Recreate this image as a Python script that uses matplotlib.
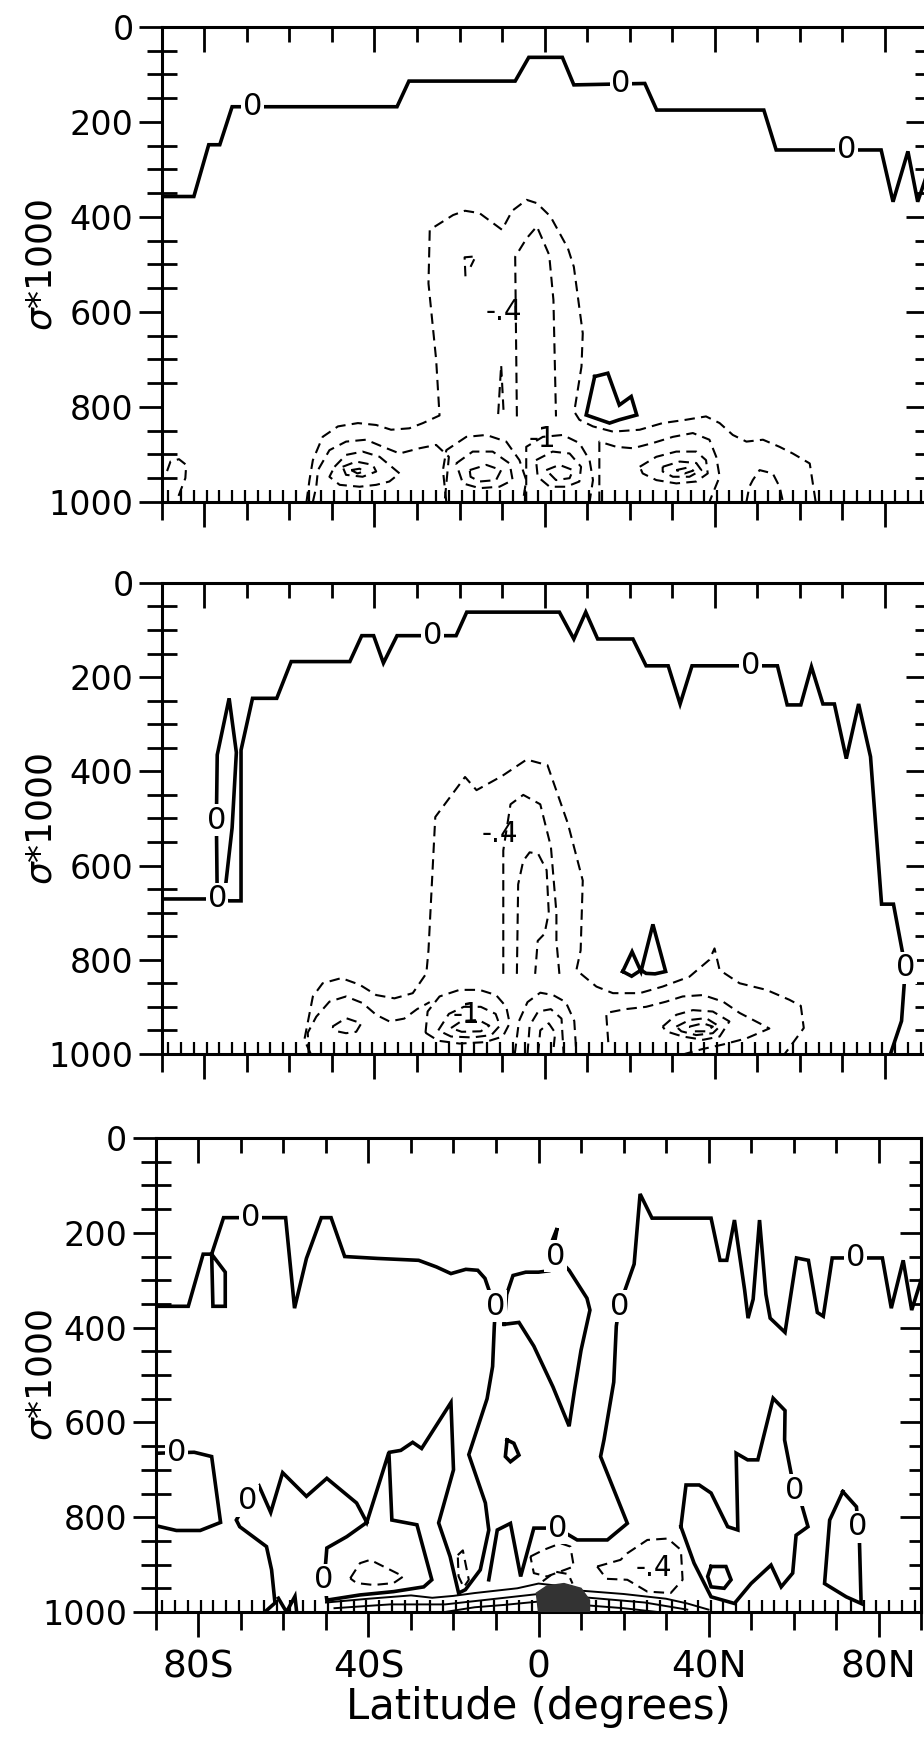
import numpy as np
import matplotlib
matplotlib.use("Agg")
import matplotlib.pyplot as plt
from matplotlib.ticker import FixedLocator, MultipleLocator, NullFormatter

plt.rcParams["font.family"] = ["DejaVu Sans"]
plt.rcParams["mathtext.fontset"] = "dejavusans"

# ---------------- data: contour lines as (latitude, sigma*1000) ----------------

# panel 1
p1_zero = [(-90, 357), (-82.5, 357), (-79, 248), (-76.4, 248), (-73.5, 168), (-34.7, 168), (-31.9, 114),
           (-6.9, 114), (-3.7, 64), (4.2, 64), (6.9, 122), (23.6, 119), (26.4, 175), (51.6, 175),
           (54.5, 259), (79.2, 259), (82, 368), (85.5, 262), (87.8, 368), (90, 310)]
p1_pos = [(11.8, 736), (14.9, 729), (17.6, 796), (20.4, 778), (21.7, 817), (17.6, 827), (15.3, 834),
          (9.8, 817), (11.8, 736)]
p1_outer = [(-56, 1000), (-55.3, 954), (-54.5, 912), (-52.2, 863), (-48.6, 841), (-43.9, 834), (-39.6, 838),
            (-36.1, 848), (-31.8, 845), (-28.6, 834), (-24.7, 818), (-25.5, 700), (-27.3, 540), (-27, 427),
            (-21.5, 396), (-18.7, 387), (-15.3, 392), (-10, 427), (-7.6, 387), (-4.2, 364), (-1.8, 371),
            (1.4, 399), (5.5, 466), (6.9, 505), (9, 645), (8.7, 715), (7, 810), (8.2, 827), (11.4, 841),
            (16.1, 852), (22.4, 848), (27.8, 834), (33.3, 827), (38, 820), (41.2, 834), (44.3, 859),
            (47.5, 873), (51.4, 869), (55.3, 884), (58.4, 898), (62.4, 919), (63.8, 1000)]
p1_inner = [(-6.5, 820), (-6.9, 484), (-4.2, 445), (-1.8, 420), (1.1, 480), (2.1, 575), (2.7, 820)]
p1_spike = [(-10.9, 815), (-10.2, 712), (-9.6, 815)]
p1_hook = [(-18.6, 525), (-18.8, 485), (-16.2, 483), (-17.4, 505)]
p1_left2 = [(-54.5, 1000), (-53.7, 968), (-53.3, 933), (-50.6, 891), (-46.7, 873), (-42, 869), (-38, 884),
            (-34.1, 898), (-29.4, 887), (-25.5, 880), (-22.5, 905), (-23.5, 1000)]
p1_left3 = [(-49.4, 926), (-46.7, 901), (-42.8, 894), (-38.8, 905), (-36.5, 922), (-34.1, 940), (-36.5, 957),
            (-39.6, 964), (-43.5, 968), (-48.2, 964), (-50.6, 947), (-49.4, 926)]
p1_left4 = [(-47.5, 926), (-44.3, 915), (-40.4, 922), (-39.6, 936), (-42.8, 947), (-46.7, 943), (-47.5, 926)]
p1_left5 = [(-45.5, 933), (-43.5, 930), (-42.5, 936), (-44, 940), (-45.5, 933)]
p1_c1 = [(-23.1, 1000), (-23.9, 933), (-23.1, 891), (-18.4, 863), (-13.7, 859), (-9, 873), (-5.9, 912),
         (-4.3, 954), (-5.1, 1000)]
p1_c2 = [(-20.8, 919), (-16.9, 894), (-12.2, 894), (-8.2, 919), (-7.5, 954), (-10.6, 968), (-15.3, 971),
         (-19.2, 961), (-20.8, 919)]
p1_c3 = [(-17.6, 933), (-13.7, 922), (-10.2, 933), (-11.4, 954), (-15.3, 957), (-17.4, 947), (-17.6, 933)]
p1_d1 = [(-4.3, 1000), (-4.3, 884), (-0.4, 863), (4.3, 859), (8.2, 876), (10.6, 912), (11.4, 954), (10.6, 1000)]
p1_d2 = [(-2, 912), (1.9, 894), (5.9, 898), (8.6, 926), (8.2, 957), (5.1, 968), (1.2, 968), (-1.6, 947), (-2, 912)]
p1_d3 = [(0.4, 933), (3.5, 922), (6.7, 933), (5.9, 950), (2.7, 954), (0.4, 933)]
p1_right2 = [(12.9, 1000), (12.9, 873), (16.9, 884), (20.8, 887), (25.5, 876), (30.2, 863), (34.9, 855),
             (38.8, 869), (40.4, 905), (41.2, 947), (39.6, 982), (38.8, 1000)]
p1_right3 = [(22.4, 926), (26.3, 905), (31, 894), (35.7, 894), (38, 912), (38.4, 940), (35.7, 957), (31, 961),
             (26.3, 954), (23.1, 940), (22.4, 926)]
p1_right4 = [(27.8, 926), (31.8, 915), (35.7, 918), (36.9, 933), (34.1, 947), (30.2, 947), (27.8, 936), (27.8, 926)]
p1_right5 = [(31, 933), (33.5, 928), (35, 934), (33, 940), (31, 933)]
p1_arch = [(47.5, 1000), (48.2, 968), (49, 954), (50.6, 933), (53.7, 940), (55.3, 968), (56.1, 1000)]
p1_pole = [(-88.8, 935), (-88, 915), (-86, 910), (-84.3, 922), (-84.5, 950), (-86, 985), (-86.6, 1000)]
p1_zero_lbl = [(-68.7, 168), (18, 119), (71, 259)]
p1_neg_lbl = [(-9.5, 600, "-.4"), (-0.5, 868, "-1")]

# panel 2
p2_zero = [(-90, 671), (-77, 671), (-74.2, 675), (-71.4, 675), (-71.4, 355), (-68.7, 245), (-63, 245),
           (-59.6, 167), (-45.8, 167), (-43, 112), (-40.2, 112), (-37.9, 170), (-34.7, 112), (-20.8, 112),
           (-18.3, 62), (3.5, 62), (6.9, 119), (9.7, 62), (12.5, 119), (20.8, 119), (23.9, 176), (29.1, 176),
           (31.9, 257), (34.7, 176), (54.8, 176), (57.1, 259), (60.3, 259), (62.8, 178), (65.5, 257),
           (68.2, 257), (71, 373), (73.9, 257), (76.7, 369), (79.3, 682), (82.1, 682), (84.9, 817),
           (84, 930), (81.4, 1000)]
p2_loop = [(-77, 671), (-77.2, 504), (-77, 365), (-74.2, 245), (-72.5, 360), (-73.5, 520), (-75, 640), (-77, 671)]
p2_pos = [(18.4, 825), (20.6, 783), (22.7, 825), (25.5, 725), (28.5, 825), (26, 830), (23.9, 829), (22.7, 822),
          (20.5, 835), (18.4, 825)]
p2_outer = [(-55, 1000), (-56.5, 970), (-54.5, 878), (-52.2, 850), (-47.8, 839), (-43.5, 853), (-39.6, 875),
            (-35.3, 882), (-31, 871), (-27.8, 829), (-27.3, 780), (-25.7, 497), (-18.7, 412), (-16, 440),
            (-10, 410), (-4.2, 375), (0.7, 387), (5.5, 511), (9, 632), (8.5, 780), (7.5, 822), (12.2, 857),
            (16.1, 871), (22.4, 871), (27.8, 857), (34.1, 836), (38.8, 800), (40, 776), (41.2, 822),
            (45.9, 850), (52.2, 864), (57.6, 885), (60.3, 898), (61, 945), (57.6, 987), (56.5, 1000)]
p2_inner = [(-9.7, 830), (-9.7, 568), (-8, 470), (-5, 450), (-1, 470), (1.5, 560), (2.8, 700), (2.8, 760), (3.5, 830)]
p2_inner2 = [(-6.5, 830), (-6.2, 640), (-5, 590), (-3.5, 572), (-1.5, 575), (0.5, 610), (1, 700), (0, 745),
             (-1.6, 760), (-2.2, 830)]
p2_left2 = [(-55.5, 1000), (-55.7, 955), (-53.7, 921), (-50.6, 889), (-46.7, 878), (-42.8, 892), (-39.6, 917),
            (-36.5, 931), (-33, 925), (-30, 905), (-27, 890)]
p2_left3 = [(-49.9, 942), (-46.7, 924), (-43.1, 935), (-44.3, 953), (-46.7, 956), (-48.8, 952), (-49.9, 942)]
p2_m1 = [(-28, 955), (-27.5, 910), (-24.7, 878), (-20, 864), (-15.3, 864), (-11.4, 875), (-9, 900), (-8.2, 935),
         (-9.8, 963), (-14, 975), (-20, 978), (-25, 972), (-28, 955)]
p2_m2 = [(-25, 950), (-22.5, 915), (-19, 900), (-15, 900), (-11.5, 915), (-10.5, 940), (-12.5, 960), (-17, 965),
         (-22, 963), (-25, 950)]
p2_m3 = [(-22, 945), (-19.5, 930), (-15.5, 928), (-13, 940), (-15, 952), (-19.5, 953), (-22, 945)]
p2_n1 = [(-7, 1000), (-6, 930), (-4, 890), (-1, 870), (2, 875), (5, 890), (7, 930), (7.5, 1000)]
p2_n2 = [(-4, 1000), (-3.5, 940), (-1.5, 910), (1.5, 905), (4, 925), (4.5, 1000)]
p2_n3 = [(-1.5, 1000), (-1, 950), (1, 935), (2.5, 955), (2, 1000)]
p2_r1 = [(15, 975), (14.5, 913), (19, 905), (23.9, 900), (28.6, 889), (32.5, 878), (37.3, 875), (42, 889),
         (45.9, 913), (50.6, 935), (52.9, 946), (47.5, 967), (42, 980), (37, 990), (33, 1000)]
p2_r2 = [(27.8, 942), (31, 917), (34.9, 907), (39.6, 910), (43.5, 931), (41.2, 963), (37.3, 970), (32.5, 963),
         (28.6, 952), (27.8, 942)]
p2_r3 = [(31, 942), (34.1, 928), (38, 924), (41.2, 942), (39.6, 956), (35.7, 960), (32.2, 952), (31, 942)]
p2_r4 = [(34.1, 942), (37.3, 935), (39.6, 942), (38, 952), (35.3, 952), (34.1, 942)]
p2_zero_lbl = [(-77, 671), (-77.2, 504), (-26.4, 112), (48.5, 176), (84.9, 817)]
p2_neg_lbl = [(-10.4, 533, "-.4"), (-18.4, 917, "-1")]

# panel 3
p3_top = [(-90, 355), (-82.4, 355), (-78.9, 245), (-76.9, 245), (-74.1, 168), (-59.5, 168), (-57.4, 359),
          (-54.6, 254), (-51.1, 168), (-48.8, 168), (-45.6, 250), (-37.9, 254), (-28.2, 258), (-24, 272),
          (-20.6, 286), (-17.1, 277), (-14.3, 279), (-12.6, 296), (-11.3, 330), (-10.1, 355), (-10.4, 397),
          (-10.8, 482), (-12.1, 550), (-16.4, 668), (-12.5, 770), (-11.7, 827), (-13.7, 911), (-17.2, 953),
          (-18.8, 960), (-20.8, 883), (-23.5, 812), (-20, 700), (-20.6, 558), (-27.5, 655), (-29.6, 642),
          (-32.4, 659), (-35, 663)]
p3_box = [(-76.9, 245), (-76.6, 355), (-73.7, 355), (-73.7, 283), (-76.9, 245)]
p3_u = [(-90, 665), (-81, 663), (-76.9, 672), (-74.8, 811), (-79.6, 828), (-85.2, 828), (-90, 818)]
p3_low = [(-64.4, 1000), (-62, 981), (-62.8, 911), (-64, 862), (-70.3, 820), (-71.1, 806), (-68.5, 765),
          (-65.7, 735), (-63, 790), (-60.2, 706), (-54.6, 756), (-49.8, 718), (-42.8, 770), (-40.4, 811),
          (-35.2, 663), (-34.5, 806), (-28.6, 816), (-25.1, 932), (-27, 947), (-34.1, 957), (-42, 964),
          (-49.8, 975), (-50.4, 932), (-49.8, 865), (-45.1, 841), (-40.4, 811)]
p3_notch = [(-8.1, 393), (-4.6, 389), (-1.1, 439), (3.4, 525), (7.2, 608), (8.5, 530), (10, 448), (12.1, 363),
            (11.4, 338), (7.2, 279), (4, 249), (3.3, 215), (4.4, 190), (2.5, 280), (0, 283), (-3, 283),
            (-6, 290), (-7.5, 330), (-8.1, 393)]
p3_north = [(19, 355), (22.5, 266), (23.9, 118), (26.7, 169), (40.6, 169), (42.7, 258), (44.3, 258), (46.1, 173),
            (48.5, 321), (49.3, 380), (50.5, 340), (52, 173), (53.5, 330), (54.5, 380), (58, 410), (60.7, 253),
            (63.5, 258), (65.6, 368), (67, 376), (69.1, 253), (80.9, 253), (83, 359), (85.8, 258), (87.8, 363),
            (90, 300)]
p3_mid = [(19, 355), (18.3, 397), (17.7, 515), (15.4, 637), (14.6, 672), (20.9, 813), (16.2, 848), (9.1, 848),
          (4.4, 823), (-1.1, 823), (-4.2, 925), (-6.6, 813), (-9.7, 827), (-11.7, 932)]
p3_east = [(33.5, 820), (34.7, 732), (37.8, 732), (40.6, 749), (44.5, 820), (46.9, 827), (46.5, 665), (49.2, 679),
           (51.6, 679), (55.2, 549), (58, 575), (57.9, 637), (60.2, 743), (61.8, 770), (63.4, 820), (60.6, 838),
           (59.8, 918), (57.1, 947), (54.7, 901), (50, 940), (46.1, 982), (40.6, 968), (36.6, 897), (33.5, 820)]
p3_blob = [(40.6, 904), (44.1, 904), (45.3, 932), (43.7, 950), (40.6, 947), (39.8, 925), (40.6, 904)]
p3_polar = [(71.6, 746), (74.8, 778), (75.5, 848), (75.9, 982), (72.4, 968), (67.3, 940), (68.5, 806), (71.6, 746)]
p3_dot = [(-7.4, 637), (-5.8, 644), (-4.6, 669), (-6.6, 683), (-7.8, 672), (-7.4, 637)]
p3_n = [(-61.2, 971), (-59.3, 1000), (-57.3, 967), (-56.9, 1000)]
p3_sfc1 = [(-50, 980), (-40, 972), (-30, 965), (-25, 970), (-20, 966), (-15, 960), (-10, 955), (-5, 950), (0, 940),
           (5, 945), (10, 955), (20, 962), (30, 972), (35, 982), (40, 995)]
p3_sfc2 = [(-48, 992), (-35, 984), (-22, 984), (-12, 974), (0, 962), (12, 970), (25, 980), (35, 995)]
p3_sfc3 = [(-22, 1000), (-15, 990), (-8, 985), (0, 978), (10, 985), (20, 992), (28, 1000)]
p3_spot = [(0, 1000), (-0.5, 960), (2, 945), (6, 940), (10, 950), (12, 975), (12, 1000)]
p3_q1 = [(-44.3, 929), (-42, 897), (-39.6, 890), (-34.9, 911), (-31.8, 925), (-34.1, 939), (-38.8, 943),
         (-42.8, 939), (-44.3, 929)]
p3_q2 = [(-19, 880), (-17.8, 870), (-16.4, 932), (-17.6, 948), (-18.8, 925), (-19, 880)]
p3_q3 = [(13.8, 904), (19.3, 890), (20.9, 876), (25.6, 848), (30.4, 845), (33.5, 869), (33.9, 932), (31.1, 960),
         (25.6, 957), (20.9, 932), (16, 930), (13.8, 904)]
p3_q4 = [(-1.9, 883), (1.2, 869), (5.2, 855), (7.5, 862), (8.3, 904), (2, 925), (-1.1, 918), (-1.9, 883)]
p3_q5 = [(1, 935), (4, 915), (7, 920), (8, 940)]
p3_zero_lbl = [(-67.8, 168), (-85.2, 663), (-68.5, 765), (-50.6, 932), (-10.1, 355), (4, 249), (4.4, 823),
               (19, 355), (74.6, 253), (60.2, 743), (75.2, 820)]
p3_neg_lbl = [(27.2, 908, "-.4")]

panels = [
    dict(solid=[p1_zero, p1_pos], thin=[],
         dashed=[p1_outer, p1_inner, p1_spike, p1_hook, p1_left2, p1_left3, p1_left4, p1_left5,
                 p1_c1, p1_c2, p1_c3, p1_d1, p1_d2, p1_d3, p1_right2, p1_right3, p1_right4,
                 p1_right5, p1_arch, p1_pole],
         zeros=p1_zero_lbl, negs=p1_neg_lbl, fill=None, rect=[0.1753, 0.7112, 0.828, 0.2733]),
    dict(solid=[p2_zero, p2_loop, p2_pos], thin=[],
         dashed=[p2_outer, p2_inner, p2_inner2, p2_left2, p2_left3, p2_m1, p2_m2, p2_m3, p2_n1, p2_n2,
                 p2_n3, p2_r1, p2_r2, p2_r3, p2_r4],
         zeros=p2_zero_lbl, negs=p2_neg_lbl, fill=None, rect=[0.1753, 0.3936, 0.828, 0.2710]),
    dict(solid=[p3_top, p3_box, p3_u, p3_low, p3_notch, p3_north, p3_mid, p3_east, p3_blob, p3_polar,
                p3_dot, p3_n],
         thin=[p3_sfc1, p3_sfc2, p3_sfc3],
         dashed=[p3_q1, p3_q2, p3_q3, p3_q4, p3_q5],
         zeros=p3_zero_lbl, negs=p3_neg_lbl, fill=p3_spot, rect=[0.1688, 0.0725, 0.828, 0.2727]),
]

lat_ticks = [-80, -40, 0, 40, 80]
lat_labels = ["80S", "40S", "0", "40N", "80N"]
sig_ticks = [0, 200, 400, 600, 800, 1000]

fig = plt.figure(figsize=(9.24, 17.38), dpi=100)

narrow = ["Liberation Sans Narrow", "DejaVu Sans"]

for k, p in enumerate(panels):
    ax = fig.add_axes(p["rect"])
    for line in p["solid"]:
        xy = np.array(line)
        ax.plot(xy[:, 0], xy[:, 1], color="black", lw=2.6, solid_joinstyle="miter", zorder=3)
    for line in p["thin"]:
        xy = np.array(line)
        ax.plot(xy[:, 0], xy[:, 1], color="black", lw=1.4, zorder=3)
    for line in p["dashed"]:
        xy = np.array(line)
        ax.plot(xy[:, 0], xy[:, 1], color="black", lw=1.5, ls=(0, (5, 3)), zorder=2)
    if p["fill"] is not None:
        xy = np.array(p["fill"])
        ax.fill(xy[:, 0], xy[:, 1], color="#333333", zorder=3)
    # contour labels sit on the line and break it
    for x, y in p["zeros"]:
        ax.text(x, y, "0", family=narrow, fontsize=22, ha="center", va="center", zorder=5,
                bbox=dict(boxstyle="square,pad=0.05", facecolor="white", edgecolor="none"))
    for x, y, s in p["negs"]:
        ax.text(x, y, s, family=narrow, fontsize=20, ha="center", va="center", zorder=5)

    ax.set_xlim(-90, 90)
    ax.set_ylim(1000, 0)
    for sp in ax.spines.values():
        sp.set_linewidth(2.2)

    # bottom: outward ticks every 10 deg, longer at labelled latitudes
    ax.xaxis.set_major_locator(FixedLocator(lat_ticks))
    ax.xaxis.set_minor_locator(MultipleLocator(10))
    ax.tick_params(axis="x", which="major", direction="out", length=18, width=2, pad=9,
                   labelsize=27, top=False)
    ax.tick_params(axis="x", which="minor", direction="out", length=13, width=2, top=False)
    if k == 2:
        ax.set_xticklabels(lat_labels)
        ax.set_xlabel("Latitude (degrees)", fontsize=30)
        ax.xaxis.set_label_coords(0.5, -0.156)
    else:
        ax.set_xticklabels([])

    # top: inward ticks
    top = ax.secondary_xaxis("top")
    top.xaxis.set_major_locator(FixedLocator(lat_ticks))
    top.xaxis.set_minor_locator(MultipleLocator(10))
    top.xaxis.set_major_formatter(NullFormatter())
    top.tick_params(which="major", direction="in", length=18, width=2)
    top.tick_params(which="minor", direction="in", length=11, width=2)

    # bottom inner row of short ticks (grid latitudes)
    grid = ax.secondary_xaxis("bottom")
    grid.xaxis.set_major_locator(FixedLocator(np.arange(-88.5, 90, 3.0)))
    grid.xaxis.set_major_formatter(NullFormatter())
    grid.tick_params(which="major", direction="in", length=9, width=1.6)
    grid.tick_params(which="minor", length=0)

    # left axis
    ax.yaxis.set_major_locator(FixedLocator(sig_ticks))
    ax.yaxis.set_minor_locator(MultipleLocator(50))
    ax.tick_params(axis="y", which="major", direction="out", length=16.5, width=2, pad=4,
                   labelsize=24, right=False)
    ax.tick_params(axis="y", which="minor", direction="inout", length=21, width=2, right=False)
    ax.set_ylabel(r"$\sigma$*1000", fontsize=26)
    ax.yaxis.set_label_coords(-0.135 if k < 2 else -0.127, 0.5)

    # right axis: inward ticks
    rt = ax.secondary_yaxis("right")
    rt.yaxis.set_major_locator(FixedLocator(sig_ticks))
    rt.yaxis.set_minor_locator(MultipleLocator(50))
    rt.yaxis.set_major_formatter(NullFormatter())
    rt.tick_params(which="major", direction="in", length=15, width=2)
    rt.tick_params(which="minor", direction="in", length=9, width=2)

fig.savefig("out.png", dpi=100, facecolor="white")
